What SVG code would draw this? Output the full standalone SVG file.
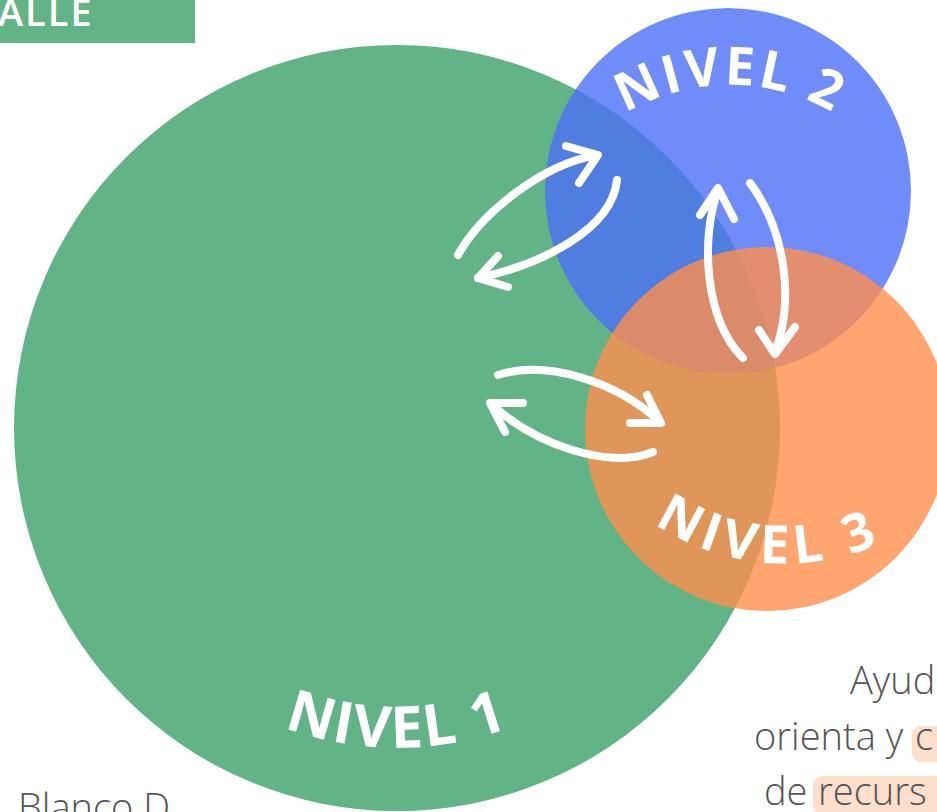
<svg xmlns="http://www.w3.org/2000/svg" width="937" height="812" viewBox="0 0 937 812">
  <style>
    .lbl { font-family: "Open Sans", "Liberation Sans", sans-serif; font-weight: 700; fill: #ffffff; }
    .body { font-family: "Open Sans", "Liberation Sans", sans-serif; font-size: 38px; font-weight: 300; fill: #555555; }
    .arr { fill: none; stroke: #ffffff; stroke-width: 8; stroke-linecap: round; stroke-linejoin: round; }
    .hl { fill: #fcdfcc; }
  </style>
  <defs>
    <path id="p2" d="M585,145 A205,205 0 0 1 875,145"/>
    <path id="p3" d="M620,495 A233,233 0 0 0 950,495"/>
    <path id="p1" d="M237,705 A320,320 0 0 0 557,705"/>
  </defs>
  <rect width="937" height="812" fill="#ffffff"/>

  <g id="header">
    <rect x="0" y="0" width="195" height="43" fill="#62b386"/>
    <text x="-2" y="26" font-family="Open Sans, Liberation Sans, sans-serif" font-weight="600" font-size="38" letter-spacing="2" fill="#ffffff">ALLE</text>
  </g>

  <g id="nivel1">
    <circle cx="397" cy="428" r="383" fill="#62b386"/>
  </g>
  <g id="nivel2">
    <circle cx="728" cy="191" r="183" fill="rgb(75,111,246)" fill-opacity="0.8"/>
  </g>
  <g id="nivel3">
    <circle cx="767" cy="429" r="182" fill="rgb(255,142,76)" fill-opacity="0.8"/>
  </g>

  <g id="labels">
    <text class="lbl" font-size="53" letter-spacing="3" text-anchor="middle"><textPath href="#p2" startOffset="50%">NIVEL 2</textPath></text>
    <text class="lbl" font-size="53" letter-spacing="6" text-anchor="middle"><textPath href="#p3" startOffset="45%">NIVEL 3</textPath></text>
    <text class="lbl" font-size="58" letter-spacing="2" text-anchor="middle"><textPath href="#p1" startOffset="50%">NIVEL 1</textPath></text>
  </g>

  <g id="connectors">
    <path class="arr" d="M458,255 C480,215 540,165 597,155"/>
    <path class="arr" d="M566,146 L598,155 L579,183"/>
    <path class="arr" d="M617,180 C612,230 540,265 478,278"/>
    <path class="arr" d="M498,256 L478,278 L508,287"/>
    <path class="arr" d="M743,358 C705,320 700,240 718,190"/>
    <path class="arr" d="M700,215 L718,188 L734,219"/>
    <path class="arr" d="M750,183 C785,230 795,300 775,352"/>
    <path class="arr" d="M759,330 L775,354 L795,327"/>
    <path class="arr" d="M498,375 C545,360 615,380 660,422"/>
    <path class="arr" d="M647,395 L661,423 L630,423"/>
    <path class="arr" d="M653,452 C610,470 535,445 490,403"/>
    <path class="arr" d="M523,403 L490,403 L505,432"/>
  </g>

  <g id="caption-right">
    <rect class="hl" x="912" y="726" width="40" height="36" rx="9"/>
    <rect class="hl" x="813" y="776" width="140" height="38" rx="9"/>
    <text class="body" x="850" y="694">Ayud</text>
    <text class="body" x="754" y="750">orienta y <tspan x="915">c</tspan></text>
    <text class="body" x="764" y="805">de <tspan x="818">recurs</tspan></text>
  </g>

  <g id="caption-left">
    <text class="body" x="18" y="821" font-size="32">Blanco D</text>
  </g>
</svg>
